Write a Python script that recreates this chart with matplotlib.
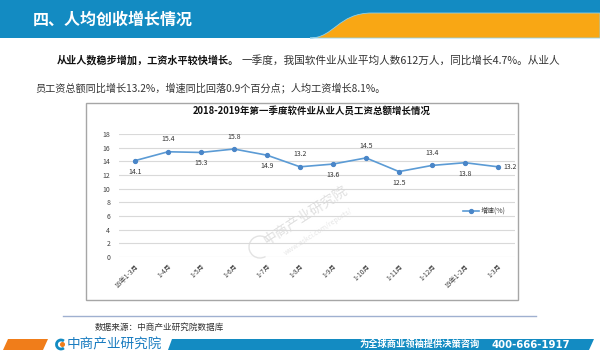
import matplotlib
matplotlib.use("Agg")
import matplotlib.pyplot as plt
from matplotlib.patches import Rectangle, Polygon, PathPatch, Arc, Circle
from matplotlib.path import Path

plt.rcParams['font.family'] = ['Noto Sans CJK SC', 'DejaVu Sans']

# ---- data ----
categories = ["18年1-3月", "1-4月", "1-5月", "1-6月", "1-7月", "1-8月",
              "1-9月", "1-10月", "1-11月", "1-12月", "19年1-2月", "1-3月"]
growth = [14.1, 15.4, 15.3, 15.8, 14.9, 13.2, 13.6, 14.5, 12.5, 13.4, 13.8, 13.2]
label_pos = ["below", "above", "below", "above", "below", "above",
             "below", "above", "below", "above", "below", "right"]
yticks = [0, 2, 4, 6, 8, 10, 12, 14, 16, 18]
series_name = "增速(%)"
chart_title = "2018-2019年第一季度软件业从业人员工资总额增长情况"
page_title = "四、人均创收增长情况"
para1_bold = "从业人数稳步增加，工资水平较快增长。"
para1_rest = "一季度，我国软件业从业平均人数612万人，同比增长4.7%。从业人"
para2 = "员工资总额同比增长13.2%，增速同比回落0.9个百分点；人均工资增长8.1%。"
source = "数据来源：中商产业研究院数据库"
brand = "中商产业研究院"
slogan = "为全球商业领袖提供决策咨询"
phone = "400-666-1917"

W, H = 600, 356
fig = plt.figure(figsize=(W / 100, H / 100), dpi=100)
fig.patch.set_facecolor("white")

# background overlay in pixel coordinates
ax0 = fig.add_axes([0, 0, 1, 1], zorder=0)
ax0.set_xlim(0, W)
ax0.set_ylim(H, 0)
ax0.axis("off")

BLUE = "#138bc2"
ORANGE = "#f9a714"

# header band
ax0.add_patch(Rectangle((0, 0), W, 38, facecolor=BLUE, edgecolor="none"))
verts = [(310, 38), (334, 38), (338, 13), (372, 13), (W, 13), (W, 38), (310, 38)]
codes = [Path.MOVETO, Path.CURVE4, Path.CURVE4, Path.CURVE4, Path.LINETO, Path.LINETO, Path.CLOSEPOLY]
ax0.add_patch(PathPatch(Path(verts, codes), facecolor=ORANGE, edgecolor="#8fd0ea", lw=0.6))
ax0.text(33, 20, page_title, color="white", fontsize=11.5, fontweight="bold",
         va="center", ha="left")

# paragraph
ax0.text(57, 60, para1_bold, color="#111111", fontsize=7.3, fontweight="bold",
         va="center", ha="left")
ax0.text(242, 60, para1_rest, color="#333333", fontsize=7.7, va="center", ha="left")
ax0.text(35, 88, para2, color="#333333", fontsize=7.3, va="center", ha="left")

# chart box
ax0.add_patch(Rectangle((86, 103), 432, 197, facecolor="white", edgecolor="#a6a6a6", lw=1.0))
ax0.text(312, 111, chart_title, color="#111111", fontsize=6.8, fontweight="bold",
         va="center", ha="center")

# watermark
ax0.add_patch(Arc((260, 247), 22, 22, theta1=60, theta2=330, color="#e3e3e3", lw=1.0))
ax0.text(305, 215, brand, color="#e0e0e0", fontsize=10, rotation=33,
         va="center", ha="center")
ax0.text(318, 232, "www.askci.com/reports/", color="#e6e6e6", fontsize=5,
         rotation=33, va="center", ha="center")

# footer
ax0.plot([63, 536], [316, 316], color="#9fb0d0", lw=1.0)
ax0.text(95, 327, source, color="#333333", fontsize=6.2, va="center", ha="left")
ax0.add_patch(Polygon([(3, 350), (8, 339), (48, 339), (43, 350)],
                      facecolor="#f07d1a", edgecolor="none"))
ax0.add_patch(Arc((61, 344.5), 9, 9, theta1=50, theta2=310, color=BLUE, lw=2.0))
ax0.add_patch(Circle((62.5, 344.5), 1.8, color="#f07d1a"))
ax0.text(67, 344.5, brand, color="#1a7cc0", fontsize=9.8, va="center", ha="left")
ax0.add_patch(Polygon([(168, 350), (172, 339), (594, 339), (589, 350)],
                      facecolor=BLUE, edgecolor="none"))
ax0.text(480, 344.5, slogan, color="white", fontsize=6.7, fontweight="bold",
         va="center", ha="right")
ax0.text(491, 344.5, phone, color="white", fontsize=7.3, fontweight="bold",
         va="center", ha="left", family="DejaVu Sans")

# ---- chart axes ----
left_px, right_px = 118.5, 514.5
top_px, bottom_px = 134, 257
ax = fig.add_axes([left_px / W, (H - bottom_px) / H,
                   (right_px - left_px) / W, (bottom_px - top_px) / H], zorder=2)
ax.set_facecolor("none")
x = list(range(len(categories)))
ax.plot(x, growth, color="#5b9bd5", lw=1.2, marker="o", markersize=2.8,
        markerfacecolor="#4a86c8", markeredgecolor="#4a86c8", label=series_name)
ax.set_xlim(-0.5, len(categories) - 0.5)
ax.set_ylim(0, 18)
ax.set_yticks(yticks)
ax.set_yticklabels([str(v) for v in yticks], fontsize=5, color="#404040")
ax.set_xticks(x)
ax.set_xticklabels(categories, fontsize=4.8, color="#404040", rotation=45,
                   ha="right", rotation_mode="anchor")
ax.tick_params(axis="y", length=0, pad=6)
ax.tick_params(axis="x", length=0, pad=4)
ax.grid(axis="y", color="#d9d9d9", lw=0.8)
ax.set_axisbelow(True)
for s in ax.spines.values():
    s.set_visible(False)

for xi, v, pos in zip(x, growth, label_pos):
    if pos == "above":
        off, ha, va = (0, 6), "center", "bottom"
    elif pos == "below":
        off, ha, va = (0, -5), "center", "top"
    else:
        off, ha, va = (4, 0), "left", "center"
    ax.annotate(f"{v}", (xi, v), xytext=off, textcoords="offset points",
                ha=ha, va=va, fontsize=5, color="#333333")

leg = ax.legend(loc="center right", bbox_to_anchor=(0.99, 0.374), fontsize=5,
                frameon=False, handlelength=2.2, handletextpad=0.3, borderpad=0.2)
for t in leg.get_texts():
    t.set_color("#404040")

fig.savefig("out.png", dpi=100, facecolor="white")
